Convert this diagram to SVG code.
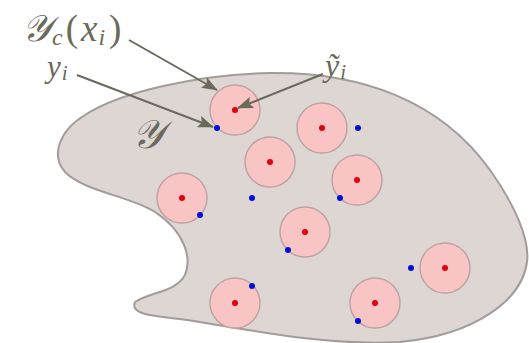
<svg xmlns="http://www.w3.org/2000/svg" width="529" height="343" viewBox="0 0 529 343">
<style>
.blob{fill:#ddd6d3;stroke:#a29c9a;stroke-width:2}
.c{fill:#f8c4c4;stroke:#bfa3a3;stroke-width:1.5}
.r{fill:#e00010}
.b{fill:#0010d8}
.arr{stroke:#6a6a5c;stroke-width:2;fill:none;marker-end:url(#ah)}
.t{font-family:"Liberation Serif","DejaVu Serif",serif;font-style:italic;fill:#6a6a5c}
</style>
<defs>
<marker id="ah" markerWidth="16" markerHeight="12" refX="15" refY="6" orient="auto" markerUnits="userSpaceOnUse" viewBox="0 0 16 12">
<path d="M0,0 L16,6 L0,12 L3,6 Z" fill="#6a6a5c"/>
</marker>
</defs>
<g id="region">
<path class="blob" d="M135,302 C150,292 176,292 185,275 C192,258 185,232 155,212 C130,196 85,192 65,172 C50,155 60,130 85,115 C120,92 200,74 270,73 C360,72 440,100 490,170 C515,205 530,240 527,262 C522,300 475,335 400,342 C330,346 260,332 200,322 C170,316 128,318 135,302 Z"/>
<text class="t" x="132" y="148" font-size="40">𝒴</text>
</g>
<g id="balls">
<g id="n1"><circle class="c" cx="235" cy="110" r="25"/><circle class="r" cx="235" cy="110" r="3"/></g>
<g id="n2"><circle class="c" cx="322" cy="128" r="25"/><circle class="r" cx="322" cy="128" r="3"/></g>
<g id="n3"><circle class="c" cx="270" cy="162" r="25"/><circle class="r" cx="270" cy="162" r="3"/></g>
<g id="n4"><circle class="c" cx="357" cy="180" r="25"/><circle class="r" cx="357" cy="180" r="3"/></g>
<g id="n5"><circle class="c" cx="182" cy="198" r="25"/><circle class="r" cx="182" cy="198" r="3"/></g>
<g id="n6"><circle class="c" cx="305" cy="232" r="25"/><circle class="r" cx="305" cy="232" r="3"/></g>
<g id="n7"><circle class="c" cx="445" cy="268" r="25"/><circle class="r" cx="445" cy="268" r="3"/></g>
<g id="n8"><circle class="c" cx="375" cy="303" r="25"/><circle class="r" cx="375" cy="303" r="3"/></g>
<g id="n9"><circle class="c" cx="235" cy="303" r="25"/><circle class="r" cx="235" cy="303" r="3"/></g>
</g>
<g id="labels-points">
<circle class="b" cx="217" cy="128" r="3"/>
<circle class="b" cx="358" cy="128" r="3"/>
<circle class="b" cx="340" cy="198" r="3"/>
<circle class="b" cx="200" cy="215" r="3"/>
<circle class="b" cx="252" cy="198" r="3"/>
<circle class="b" cx="288" cy="250" r="3"/>
<circle class="b" cx="411" cy="268" r="3"/>
<circle class="b" cx="358" cy="321" r="3"/>
<circle class="b" cx="252" cy="286" r="3"/>
</g>
<g id="connectors">
<line class="arr" x1="129" y1="40" x2="217" y2="90"/>
<line class="arr" x1="77" y1="75" x2="213" y2="127"/>
<line class="arr" x1="323" y1="74" x2="238" y2="108"/>
</g>
<g id="label-yc">
<text class="t" x="22" y="41" font-size="37">𝒴<tspan font-size="24" dy="4" dx="1">c</tspan><tspan font-style="normal" dy="-4" dx="3">(</tspan><tspan dx="3">x</tspan><tspan font-size="24" dy="4" dx="1">i</tspan><tspan font-style="normal" dy="-4" dx="4">)</tspan></text>
</g>
<g id="label-yi">
<text class="t" x="47" y="77" font-size="31">y<tspan font-size="21" dy="3" dx="1">i</tspan></text>
</g>
<g id="label-yt">
<text class="t" x="325" y="76" font-size="32">ỹ<tspan font-size="21" dy="3" dx="1">i</tspan></text>
</g>
</svg>
